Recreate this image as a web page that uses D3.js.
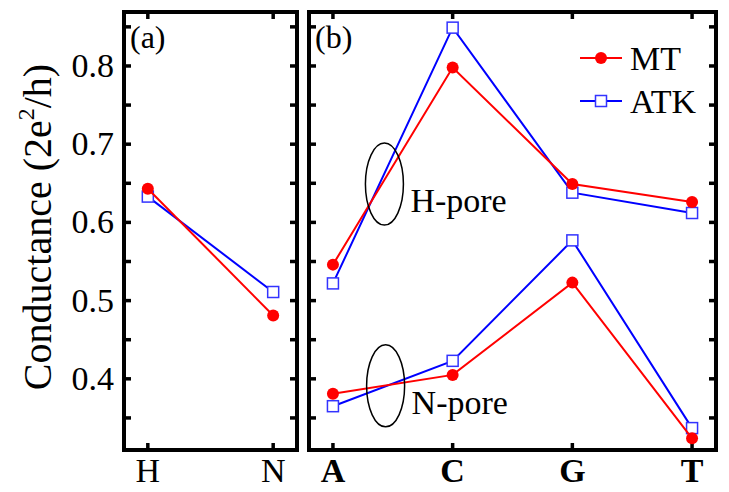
<!DOCTYPE html>
<html>
<head>
<meta charset="utf-8">
<script src="https://cdn.jsdelivr.net/npm/d3@7"></script>
<style>
  body { margin: 0; background: #fff; }
</style>
</head>
<body>
<div id="chart"></div>
<script>
// data
var poreCats = ["H", "N"];
var poreMT = [0.643, 0.481];
var poreATK = [0.633, 0.511];

var bases = ["A", "C", "G", "T"];
var hPoreMT = [0.546, 0.798, 0.649, 0.626];
var hPoreATK = [0.522, 0.849, 0.638, 0.612];
var nPoreMT = [0.381, 0.405, 0.523, 0.324];
var nPoreATK = [0.365, 0.423, 0.577, 0.337];

var yMajor = [0.4, 0.5, 0.6, 0.7, 0.8];
var yAllTicks = [0.35, 0.4, 0.45, 0.5, 0.55, 0.6, 0.65, 0.7, 0.75, 0.8, 0.85];

var svgWidth = 729;
var svgHeight = 492;

var svg = d3.select("#chart")
  .append("svg")
  .attr("width", svgWidth)
  .attr("height", svgHeight)
  .style("font-family", "'Liberation Serif', 'Times New Roman', Times, 'DejaVu Serif', serif");

var plotTop = 12, plotBottom = 450;
var panelA = { left: 124, right: 297 };
var panelB = { left: 309, right: 716 };

var y = d3.scaleLinear().domain([0.309, 0.869]).range([plotBottom, plotTop]);

var xA = d3.scalePoint().domain(poreCats).range([panelA.left, panelA.right]).padding(0.19);
var xB = d3.scalePoint().domain(bases).range([panelB.left, panelB.right]).padding(0.2);

var red = "#ff0000", blue = "#0000ff";

function drawFrame(p, xs) {
  var g = svg.append("g");
  // inward ticks on all four sides
  var tk = 7;
  yAllTicks.forEach(function(v) {
    g.append("line").attr("x1", p.left).attr("x2", p.left + tk)
      .attr("y1", y(v)).attr("y2", y(v));
    g.append("line").attr("x1", p.right).attr("x2", p.right - tk)
      .attr("y1", y(v)).attr("y2", y(v));
  });
  xs.domain().forEach(function(c) {
    g.append("line").attr("x1", xs(c)).attr("x2", xs(c))
      .attr("y1", plotBottom).attr("y2", plotBottom - tk);
    g.append("line").attr("x1", xs(c)).attr("x2", xs(c))
      .attr("y1", plotTop).attr("y2", plotTop + tk);
  });
  g.selectAll("line").attr("stroke", "#000").attr("stroke-width", 3.5);
  g.append("rect")
    .attr("x", p.left).attr("y", plotTop)
    .attr("width", p.right - p.left).attr("height", plotBottom - plotTop)
    .attr("fill", "none").attr("stroke", "#000").attr("stroke-width", 4);
}

function drawSeries(xs, cats, vals, color, kind) {
  var pts = cats.map(function(c, i) { return [xs(c), y(vals[i])]; });
  svg.append("path")
    .attr("d", d3.line()(pts))
    .attr("fill", "none").attr("stroke", color).attr("stroke-width", 2);
  pts.forEach(function(p) {
    if (kind === "circle") {
      svg.append("circle").attr("cx", p[0]).attr("cy", p[1]).attr("r", 6).attr("fill", color);
    } else {
      svg.append("rect").attr("x", p[0] - 5.5).attr("y", p[1] - 5.5)
        .attr("width", 11).attr("height", 11)
        .attr("fill", "#fff").attr("stroke", "#3333ff").attr("stroke-width", 1.5);
    }
  });
}

drawFrame(panelA, xA);
drawFrame(panelB, xB);

// panel (a)
drawSeries(xA, poreCats, poreATK, blue, "square");
drawSeries(xA, poreCats, poreMT, red, "circle");

// panel (b)
drawSeries(xB, bases, hPoreATK, blue, "square");
drawSeries(xB, bases, hPoreMT, red, "circle");
drawSeries(xB, bases, nPoreATK, blue, "square");
drawSeries(xB, bases, nPoreMT, red, "circle");

// y tick labels
svg.selectAll(".ylab")
  .data(yMajor)
  .enter()
  .append("text")
  .attr("x", panelA.left - 10)
  .attr("y", d => y(d) + 11)
  .attr("text-anchor", "end")
  .attr("font-size", "34px")
  .text(d => d.toFixed(1));

// x tick labels
svg.selectAll(".xlabA")
  .data(poreCats)
  .enter()
  .append("text")
  .attr("x", d => xA(d))
  .attr("y", 482)
  .attr("text-anchor", "middle")
  .attr("font-size", "34px")
  .text(d => d);

svg.selectAll(".xlabB")
  .data(bases)
  .enter()
  .append("text")
  .attr("x", d => xB(d))
  .attr("y", 482)
  .attr("text-anchor", "middle")
  .attr("font-size", "34px")
  .attr("font-weight", "bold")
  .text(d => d);

// y axis title
var yTitle = svg.append("text")
  .attr("transform", "translate(51, 227) rotate(-90)")
  .attr("text-anchor", "middle")
  .attr("font-size", "40px");
yTitle.append("tspan").text("Conductance (2e");
yTitle.append("tspan").attr("font-size", "24px").attr("dy", -17).text("2");
yTitle.append("tspan").attr("dy", 17).text("/h)");

// panel labels
svg.append("text").attr("x", 130).attr("y", 48).attr("font-size", "32px").text("(a)");
svg.append("text").attr("x", 315).attr("y", 48).attr("font-size", "32px").text("(b)");

// pore annotations (ellipse around the crossing between A and C)
var xIdx = d3.scaleLinear().domain([0, bases.length - 1]).range([xB("A"), xB("T")]);
var notes = [
  { label: "H-pore", pos: 0.43, val: 0.649 },
  { label: "N-pore", pos: 0.44, val: 0.391 }
];
notes.forEach(function(n) {
  svg.append("ellipse")
    .attr("cx", xIdx(n.pos)).attr("cy", y(n.val))
    .attr("rx", 19).attr("ry", 41)
    .attr("fill", "none").attr("stroke", "#000").attr("stroke-width", 1.5);
  svg.append("text")
    .attr("x", xIdx(n.pos) + 26).attr("y", y(n.val) + 28)
    .attr("font-size", "34px")
    .text(n.label);
});

// legend
var legend = [
  { name: "MT", color: red, kind: "circle" },
  { name: "ATK", color: blue, kind: "square" }
];
legend.forEach(function(l, i) {
  var ly = 58 + i * 43;
  svg.append("line").attr("x1", 580).attr("x2", 622).attr("y1", ly).attr("y2", ly)
    .attr("stroke", l.color).attr("stroke-width", 2);
  if (l.kind === "circle") {
    svg.append("circle").attr("cx", 601).attr("cy", ly).attr("r", 6).attr("fill", l.color);
  } else {
    svg.append("rect").attr("x", 595.5).attr("y", ly - 5.5).attr("width", 11).attr("height", 11)
      .attr("fill", "#fff").attr("stroke", "#3333ff").attr("stroke-width", 1.5);
  }
  svg.append("text").attr("x", 630).attr("y", ly + 12).attr("font-size", "34px")
    .text(l.name);
});
</script>
</body>
</html>
